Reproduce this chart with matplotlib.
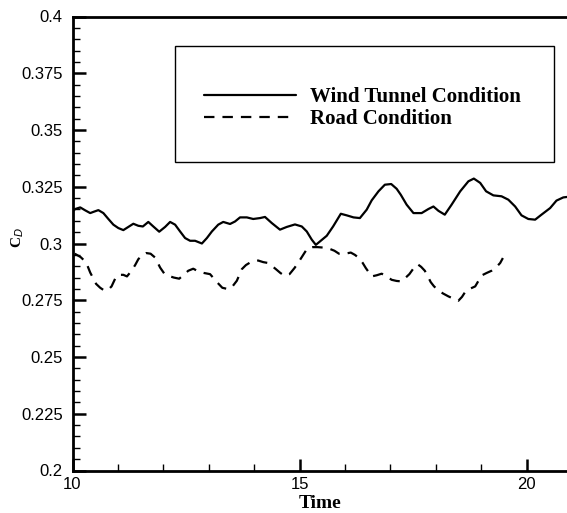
import matplotlib
matplotlib.use("Agg")
import matplotlib.pyplot as plt
from matplotlib.ticker import MultipleLocator, FixedLocator
from matplotlib.patches import Rectangle

# Data
wind_t = [10.00, 10.06, 10.17, 10.28, 10.39, 10.47, 10.57, 10.68, 10.79, 10.90,
          11.01, 11.12, 11.23, 11.34, 11.45, 11.55, 11.67, 11.78, 11.91, 12.04,
          12.15, 12.26, 12.37, 12.48, 12.59, 12.70, 12.85, 12.96, 13.07, 13.21,
          13.32, 13.47, 13.58, 13.69, 13.84, 13.98, 14.13, 14.24, 14.39, 14.57,
          14.72, 14.90, 15.05, 15.16, 15.27, 15.36, 15.45, 15.60, 15.74, 15.91,
          16.04, 16.19, 16.33, 16.48, 16.59, 16.74, 16.88, 17.02, 17.14, 17.23,
          17.36, 17.51, 17.69, 17.84, 17.95, 18.06, 18.20, 18.35, 18.54, 18.72,
          18.84, 18.98, 19.11, 19.27, 19.45, 19.60, 19.75, 19.89, 20.04, 20.19,
          20.33, 20.52, 20.66, 20.81, 20.89]
wind_cd = [0.3141, 0.3152, 0.3159, 0.3146, 0.3134, 0.3140, 0.3147, 0.3134, 0.3108, 0.3083,
           0.3068, 0.3059, 0.3073, 0.3087, 0.3078, 0.3075, 0.3095, 0.3075, 0.3052, 0.3073,
           0.3095, 0.3083, 0.3053, 0.3024, 0.3012, 0.3012, 0.3000, 0.3024, 0.3053, 0.3083,
           0.3095, 0.3086, 0.3097, 0.3115, 0.3115, 0.3108, 0.3112, 0.3117, 0.3090, 0.3061,
           0.3073, 0.3084, 0.3075, 0.3053, 0.3017, 0.2994, 0.3009, 0.3034, 0.3075, 0.3131,
           0.3124, 0.3115, 0.3112, 0.3149, 0.3190, 0.3230, 0.3259, 0.3262, 0.3241, 0.3215,
           0.3171, 0.3134, 0.3134, 0.3152, 0.3163, 0.3144, 0.3127, 0.3171, 0.3230, 0.3274,
           0.3286, 0.3267, 0.3230, 0.3212, 0.3208, 0.3193, 0.3163, 0.3124, 0.3108, 0.3105,
           0.3127, 0.3156, 0.3189, 0.3203, 0.3205]

road_t = [10.05, 10.18, 10.30, 10.39, 10.52, 10.61, 10.70, 10.78, 10.86, 10.97,
          11.05, 11.12, 11.20, 11.30, 11.38, 11.45, 11.55, 11.62, 11.72, 11.82,
          11.93, 12.02, 12.11, 12.23, 12.35, 12.45, 12.55, 12.66, 12.77, 12.90,
          13.03, 13.19, 13.30, 13.43, 13.52, 13.62, 13.73, 13.82, 13.91, 14.00,
          14.09, 14.20, 14.31, 14.40, 14.48, 14.58, 14.67, 14.78, 14.89, 14.97,
          15.05, 15.12, 15.18, 15.29, 15.40, 15.53, 15.67, 15.77, 15.87, 16.00,
          16.13, 16.22, 16.31, 16.39, 16.46, 16.59, 16.70, 16.81, 16.92, 17.03,
          17.14, 17.25, 17.33, 17.42, 17.51, 17.60, 17.68, 17.76, 17.82, 17.89,
          17.96, 18.04, 18.16, 18.28, 18.39, 18.50, 18.58, 18.67, 18.77, 18.87,
          18.94, 19.01, 19.12, 19.23, 19.33, 19.42, 19.48]
road_cd = [0.2955, 0.2940, 0.2917, 0.2872, 0.2822, 0.2805, 0.2793, 0.2795, 0.2811, 0.2858,
           0.2862, 0.2862, 0.2855, 0.2880, 0.2905, 0.2931, 0.2952, 0.2958, 0.2955, 0.2938,
           0.2894, 0.2868, 0.2858, 0.2850, 0.2845, 0.2862, 0.2880, 0.2889, 0.2877, 0.2870,
           0.2865, 0.2828, 0.2805, 0.2799, 0.2810, 0.2836, 0.2887, 0.2905, 0.2916, 0.2922,
           0.2925, 0.2918, 0.2914, 0.2900, 0.2887, 0.2870, 0.2858, 0.2865, 0.2892, 0.2915,
           0.2940, 0.2962, 0.2980, 0.2984, 0.2984, 0.2982, 0.2976, 0.2968, 0.2955, 0.2955,
           0.2960, 0.2950, 0.2936, 0.2915, 0.2892, 0.2855, 0.2860, 0.2867, 0.2855, 0.2840,
           0.2835, 0.2833, 0.2848, 0.2865, 0.2890, 0.2909, 0.2897, 0.2880, 0.2858, 0.2830,
           0.2812, 0.2796, 0.2780, 0.2767, 0.2757, 0.2748, 0.2765, 0.2793, 0.2802, 0.2811,
           0.2835, 0.2859, 0.2870, 0.2880, 0.2895, 0.2914, 0.2936]

labels = ["Wind Tunnel Condition", "Road Condition"]
x_ticks = [10, 15, 20]
y_ticks = [0.2, 0.225, 0.25, 0.275, 0.3, 0.325, 0.35, 0.375, 0.4]
y_ticklabels = ["0.2", "0.225", "0.25", "0.275", "0.3", "0.325", "0.35", "0.375", "0.4"]

W, H = 567, 513
fig = plt.figure(figsize=(W / 100, H / 100), dpi=100)
left, bottom, top = 72.5 / W, 1 - 470.5 / H, 1 - 16.5 / H
ax = fig.add_axes([left, bottom, 1 - left, top - bottom])

ax.plot(wind_t, wind_cd, color="black", lw=1.6, solid_joinstyle="round",
        solid_capstyle="round", label=labels[0])
ax.plot(road_t, road_cd, color="black", lw=1.6, linestyle=(0, (4.7, 3.6)),
        dash_joinstyle="round", label=labels[1])

ax.set_xlim(10, 10 + (W - 72.5) / 45.4)
ax.set_ylim(0.2, 0.4)

ax.xaxis.set_major_locator(FixedLocator(x_ticks))
ax.xaxis.set_minor_locator(MultipleLocator(1))
ax.yaxis.set_major_locator(FixedLocator(y_ticks))
ax.set_yticklabels(y_ticklabels)
ax.yaxis.set_minor_locator(MultipleLocator(0.005))

for lab in ax.get_xticklabels() + ax.get_yticklabels():
    lab.set_fontfamily("Liberation Sans")
    lab.set_fontsize(12)

ax.tick_params(which="major", direction="in", length=9, width=1.8, pad=5,
               top=False, right=False)
ax.tick_params(which="minor", direction="in", length=5, width=1.0,
               top=False, right=False)
ax.tick_params(axis="y", which="major", pad=7)

for s in ["left", "bottom", "top"]:
    ax.spines[s].set_linewidth(2.0)
ax.spines["right"].set_visible(False)

ax.set_xlabel("Time", fontfamily="Liberation Serif", fontweight="bold",
              fontsize=14, labelpad=2)

fig.text(26 / W, 1 - 238 / H, "C$_D$", rotation=90, ha="right", va="center",
         fontsize=11, fontfamily="Liberation Serif", fontweight="bold")

# Legend box
rect = Rectangle((175 / W, 1 - 162 / H), (554 - 175) / W, (162 - 46) / H,
                 transform=fig.transFigure, fill=False, lw=1.0,
                 edgecolor="black", zorder=5)
fig.patches.append(rect)

leg = ax.legend(loc="upper left", bbox_to_anchor=(204 / W, 1 - 87 / H),
                bbox_transform=fig.transFigure, frameon=False,
                prop=dict(family="Liberation Serif", weight="bold", size=15),
                handlelength=4.4, handletextpad=0.7, labelspacing=0.12,
                borderpad=0, borderaxespad=0)

fig.savefig("out.png", dpi=100)
